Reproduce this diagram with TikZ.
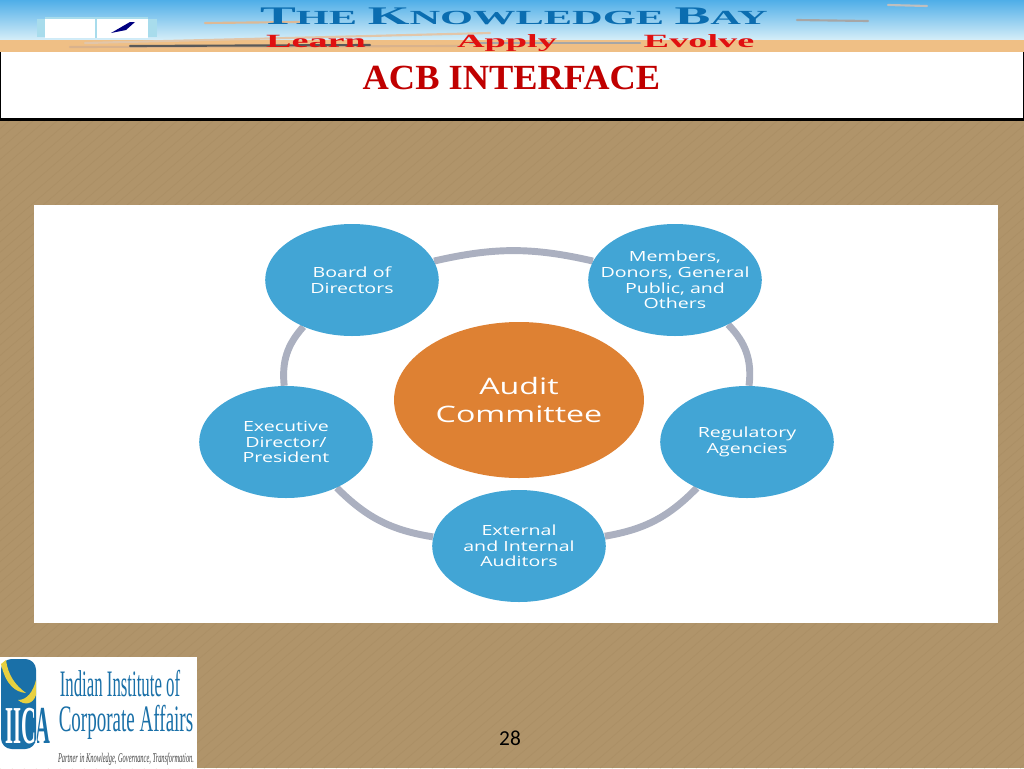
\documentclass[tikz,border=0pt]{standalone}
\usepackage{fontspec}
\setmainfont{Liberation Serif}
\newfontfamily\bubblefont{Open Sans}
\newfontfamily\pagefont{Carlito}
\usetikzlibrary{backgrounds,shapes.geometric}
\definecolor{burlap}{HTML}{B0946A}
\definecolor{weave}{HTML}{AB8F65}
\definecolor{skytop}{HTML}{4FAEE8}
\definecolor{skymid}{HTML}{B4DFF2}
\definecolor{skylow}{HTML}{D6EEF8}
\definecolor{sand}{HTML}{EFBF85}
\definecolor{bookedge}{HTML}{A8DCEC}
\definecolor{bubbleblue}{HTML}{42A5D5}
\definecolor{ringgrey}{HTML}{ABB0C0}
\definecolor{auditorange}{HTML}{DE8133}
\definecolor{titlered}{HTML}{C00000}
\definecolor{mottored}{HTML}{E01010}
\definecolor{bayblue}{HTML}{0B6DB0}
\definecolor{iicablue}{HTML}{1A70A8}
\definecolor{iicayellow}{HTML}{E8D040}
\tikzset{
  member/.style={ellipse,minimum width=93pt,minimum height=84pt,inner sep=-12pt,fill=bubbleblue,text=white,
    align=center,xscale=1.4,transform shape,font=\bubblefont\fontsize{10.5}{11.7}\selectfont},
  ring/.style={line width=5.2pt,ringgrey},
  motto/.style={anchor=base,font=\bfseries\fontsize{14}{14}\selectfont,text=mottored,xscale=2.05,transform shape,inner sep=0pt},
  sandline/.style={line width=1.6pt,color=#1,line cap=round}
}
\begin{document}
\begin{tikzpicture}[x=0.75pt,y=-0.75pt]
\useasboundingbox (0,0) rectangle (1024,768);
\begin{scope}[on background layer]
\fill [burlap] (0,0) rectangle (1024,768);
\foreach \i in {-768,-756,...,1024}
  \draw [weave,line width=0.5pt] (\i,768) -- ++(768,-660);
\fill [white] (34,205) rectangle (998,623);
\end{scope}
% banner
\shade [top color=skytop,middle color=skymid,bottom color=skylow] (0,0) rectangle (1024,40);
\fill [sand] (0,40) rectangle (1024,52);
\draw [sandline=brown!55!white] (205,23) -- (300,22);
\draw [sandline=brown!45!white] (85,43) -- (490,33);
\draw [sandline=brown!60!white] (70,47) -- (460,46);
\draw [sandline=black!65] (130,46) -- (370,45);
\draw [sandline=gray!70!white] (470,43) -- (640,43);
\draw [sandline=gray!70!white] (797,20) -- (868,21);
\draw [sandline=gray!50!white] (888,5) -- (927,6);
\fill [bookedge] (37,19) rectangle (157,37);
\fill [white] (45,18) rectangle (148,38);
\draw [bookedge,thick] (45,18) -- (148,18) (96,18) -- (96,38);
\fill [blue!50!black] (111,33) -- (130,22) -- (135,22) -- (126,30) -- cycle;
\node (brand) at (514,24) [anchor=base,inner sep=0pt,text=bayblue,font=\bfseries\fontsize{19}{19}\selectfont,xscale=2.12,transform shape] {T\fontsize{15}{15}\selectfont HE\ \fontsize{19}{19}\selectfont K\fontsize{15}{15}\selectfont NOWLEDGE\ \fontsize{19}{19}\selectfont B\fontsize{15}{15}\selectfont AY};
\node (learn) at (316,47) [motto] {Learn};
\node (apply) at (507,47) [motto] {Apply};
\node (evolve) at (699,47) [motto] {Evolve};
% title box
\fill [white] (0,52) rectangle (1024,119);
\draw [line width=1.2pt] (0.5,52) -- (0.5,119);
\draw [line width=1.2pt] (1023.5,52) -- (1023.5,119);
\draw [line width=2.25pt] (0,119.5) -- (1024,119.5);
\node (title) at (511.5,89.5) [anchor=base,inner sep=0pt,text=titlered,font=\bfseries\fontsize{26.5}{26.5}\selectfont,xscale=1.03,transform shape] {ACB INTERFACE};
% diagram
\node (audit) at (519,400) [ellipse,minimum width=132pt,minimum height=117pt,inner sep=0pt,fill=auditorange,text=white,align=center,xscale=1.42,transform shape,font=\bubblefont\fontsize{17}{21}\selectfont] {Audit\\Committee};
\node (board) at (352,280) [member] {Board of\\Directors};
\node (members) at (675,280) [member] {Members,\\Donors, General\\Public, and\\Others};
\node (regulatory) at (747,442) [member] {Regulatory\\Agencies};
\node (auditors) at (519,546) [member] {External\\and Internal\\Auditors};
\node (executive) at (286,442) [member] {Executive\\Director/\\President};
\begin{scope}[on background layer]
\draw [ring] (board) to [bend left=13] (members);
\draw [ring] (members) to [bend left=26] (regulatory);
\draw [ring] (regulatory) to [bend left=18] (auditors);
\draw [ring] (auditors) to [bend left=18] (executive);
\draw [ring] (executive) to [bend left=24] (board);
\end{scope}
% logo
\fill [white] (0,657) rectangle (197,768);
\fill [iicablue,rounded corners=8pt] (1,659) rectangle (36,749);
\fill [iicayellow] (1,664) .. controls (6,685) and (15,692) .. (26,693) .. controls (15,685) and (8,675) .. (6,660) -- cycle;
\fill [iicayellow] (18,700) .. controls (27,700) and (33,692) .. (36,680) -- (36,695) .. controls (33,704) and (25,706) .. (18,700) -- cycle;
\node (iica) at (5,743) [anchor=base west,inner sep=0pt,text=iicablue,font=\bfseries\fontsize{40}{40}\selectfont,xscale=0.385,transform shape] {IICA};
\begin{scope}
\clip (1,659) rectangle (36,749);
\node (iicawhite) at (5,743) [anchor=base west,inner sep=0pt,text=white,font=\bfseries\fontsize{40}{40}\selectfont,xscale=0.385,transform shape] {IICA};
\end{scope}
\node (indian) at (120,696) [anchor=base,inner sep=0pt,text=iicablue,font=\fontsize{28}{28}\selectfont,xscale=0.45,transform shape] {Indian Institute of};
\node (corporate) at (126,731) [anchor=base,inner sep=0pt,text=iicablue,font=\fontsize{28}{28}\selectfont,xscale=0.51,transform shape] {Corporate Affairs};
\node (partner) at (126,762) [anchor=base,inner sep=0pt,text=black!75,font=\itshape\fontsize{10}{10}\selectfont,xscale=0.48,transform shape] {Partner in Knowledge, Governance, Transformation.};
\node (page) at (510,738) [inner sep=0pt,font=\pagefont\fontsize{16}{16}\selectfont] {28};
\end{tikzpicture}
\end{document}
